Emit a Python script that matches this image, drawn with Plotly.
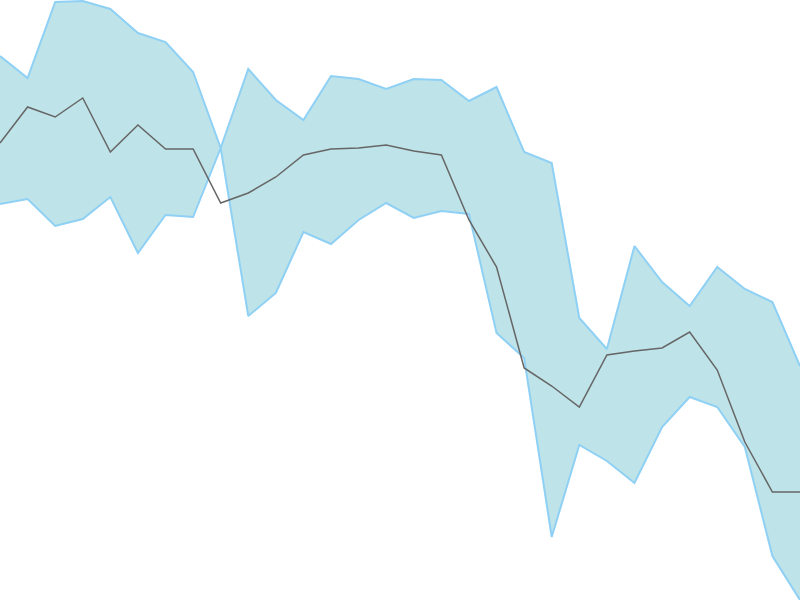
import plotly.graph_objects as go

# 30 periods, values
steps = list(range(30))
upper = [544, 522, 598, 599, 591, 567, 558, 528, 452, 531, 500, 480, 524, 521, 511,
         521, 520, 499, 513, 448, 437, 282, 251, 354, 318, 294, 333, 311, 298, 234]
lower = [396, 401, 374, 381, 403, 347, 385, 383, 452, 284, 307, 368, 356, 380, 397,
         382, 389, 386, 267, 242, 63, 155, 139, 117, 173, 203, 193, 153, 44, 0]
middle = [457, 493, 483, 502, 448, 475, 451, 451, 397, 407, 423, 445, 451, 452, 455,
          449, 445, 380, 333, 232, 214, 193, 245, 249, 252, 268, 230, 158, 108, 108]

band_line = dict(color="#8fd0f5", width=2)

fig = go.Figure()
fig.add_trace(go.Scatter(x=steps, y=lower, mode="lines", line=band_line,
                         hoverinfo="skip"))
fig.add_trace(go.Scatter(x=steps, y=upper, mode="lines", line=band_line,
                         fill="tonexty", fillcolor="#bee3e8", hoverinfo="skip"))
fig.add_trace(go.Scatter(x=steps, y=middle, mode="lines",
                         line=dict(color="#666666", width=1.5)))

fig.update_layout(
    width=800, height=600,
    margin=dict(l=0, r=0, t=0, b=0),
    paper_bgcolor="white", plot_bgcolor="white",
    showlegend=False,
    xaxis=dict(visible=False, range=[0, 29]),
    yaxis=dict(visible=False, range=[0, 600]),
)

# drop the page margin so the chart fills the window edge to edge
fig.write_html(
    "out.html",
    config={"displayModeBar": False},
    post_script="document.body.style.margin='0';document.body.style.overflow='hidden';",
)
